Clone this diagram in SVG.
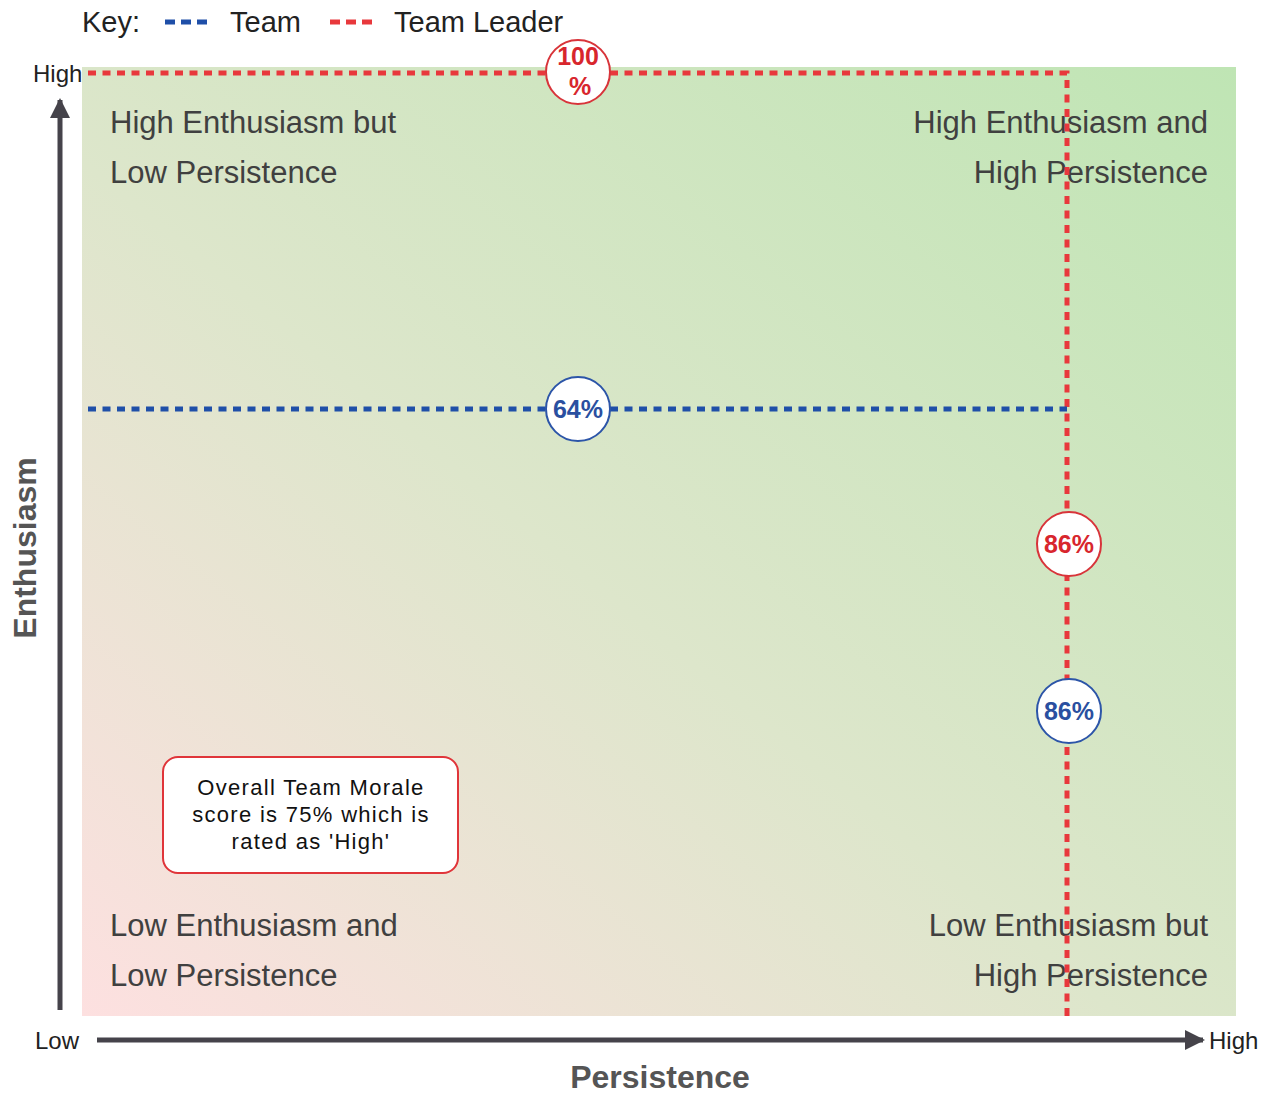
<svg xmlns="http://www.w3.org/2000/svg" width="1269" height="1093" viewBox="0 0 1269 1093">
<defs>
<linearGradient id="bg" x1="0" y1="1" x2="1" y2="0">
<stop offset="0" stop-color="#fde0e0"/>
<stop offset="0.45" stop-color="#dde6cb"/>
<stop offset="1" stop-color="#bfe5b4"/>
</linearGradient>
<marker id="ah" viewBox="0 0 10 10" refX="9" refY="5" markerWidth="4" markerHeight="4" orient="auto" markerUnits="strokeWidth">
<path d="M0,0 L10,5 L0,10 z" fill="#45434a"/>
</marker>
</defs>
<style>
.q{font-family:"Liberation Sans",Arial,sans-serif;font-size:31px;fill:#404040}
.ax{font-family:"Liberation Sans",Arial,sans-serif;font-size:24px;fill:#222}
.tt{font-family:"Liberation Sans",Arial,sans-serif;font-size:32px;font-weight:bold;fill:#555}
.key{font-family:"Liberation Sans",Arial,sans-serif;font-size:29px;fill:#222}
.red{stroke:#e8383c;stroke-width:5;stroke-dasharray:8 6.5;fill:none}
.blue{stroke:#1f4fa8;stroke-width:5;stroke-dasharray:8 6.5;fill:none}
.kr{stroke:#e8383c;stroke-width:5;stroke-dasharray:10 6;fill:none}
.kb{stroke:#1f4fa8;stroke-width:5;stroke-dasharray:10 6;fill:none}
.cr{fill:#fff;stroke:#d8343a;stroke-width:2}
.cb{fill:#fff;stroke:#2c55a8;stroke-width:2}
.pr{font-family:"Liberation Sans Narrow","Liberation Sans",Arial,sans-serif;font-size:25px;font-weight:bold;fill:#d8262d;text-anchor:middle}
.pb{font-family:"Liberation Sans Narrow","Liberation Sans",Arial,sans-serif;font-size:25px;font-weight:bold;fill:#2a4fa0;text-anchor:middle}
.call{font-family:"Liberation Sans",Arial,sans-serif;font-size:22px;fill:#111;text-anchor:middle;letter-spacing:1.3px}
</style>
<rect width="1269" height="1093" fill="#fff"/>
<rect x="82" y="67" width="1154" height="949" fill="url(#bg)"/>

<g id="key">
<text class="key" x="82" y="32">Key:</text>
<line class="kb" x1="165" y1="22" x2="213" y2="22"/>
<text class="key" x="230" y="32">Team</text>
<line class="kr" x1="330" y1="22" x2="378" y2="22"/>
<text class="key" x="394" y="32">Team Leader</text>
</g>

<g id="axes">
<line x1="60" y1="1010" x2="60" y2="100" stroke="#45434a" stroke-width="5" marker-end="url(#ah)"/>
<line x1="97" y1="1040" x2="1203" y2="1040" stroke="#45434a" stroke-width="5" marker-end="url(#ah)"/>
<text class="ax" x="33" y="82">High</text>
<text class="ax" x="35" y="1049">Low</text>
<text class="ax" x="1209" y="1049">High</text>
<text class="tt" transform="translate(36,548) rotate(-90)" text-anchor="middle">Enthusiasm</text>
<text class="tt" x="660" y="1088" text-anchor="middle">Persistence</text>
</g>

<g id="quadrants">
<text class="q" x="110" y="133">High Enthusiasm but</text>
<text class="q" x="110" y="183">Low Persistence</text>
<text class="q" x="1208" y="133" text-anchor="end">High Enthusiasm and</text>
<text class="q" x="1208" y="183" text-anchor="end">High Persistence</text>
<text class="q" x="110" y="936">Low Enthusiasm and</text>
<text class="q" x="110" y="986">Low Persistence</text>
<text class="q" x="1208" y="936" text-anchor="end">Low Enthusiasm but</text>
<text class="q" x="1208" y="986" text-anchor="end">High Persistence</text>
</g>

<g id="connectors">
<path class="red" d="M88,73 H1067 V1016"/>
<line class="blue" x1="88" y1="409" x2="1067" y2="409"/>
</g>

<g id="leader-enthusiasm">
<circle class="cr" cx="578" cy="72" r="32"/>
<text class="pr" x="578" y="65">100</text>
<text class="pr" x="580" y="95">%</text>
</g>
<g id="team-enthusiasm">
<circle class="cb" cx="578" cy="409" r="32"/>
<text class="pb" x="578" y="418">64%</text>
</g>
<g id="leader-persistence">
<circle class="cr" cx="1069" cy="544" r="32"/>
<text class="pr" x="1069" y="553">86%</text>
</g>
<g id="team-persistence">
<circle class="cb" cx="1069" cy="711" r="32"/>
<text class="pb" x="1069" y="720">86%</text>
</g>

<g id="callout">
<rect x="163" y="757" width="295" height="116" rx="15" fill="#fff" stroke="#e0353a" stroke-width="2"/>
<text class="call" x="311" y="795">Overall Team Morale</text>
<text class="call" x="311" y="822">score is 75% which is</text>
<text class="call" x="311" y="849">rated as 'High'</text>
</g>
</svg>
